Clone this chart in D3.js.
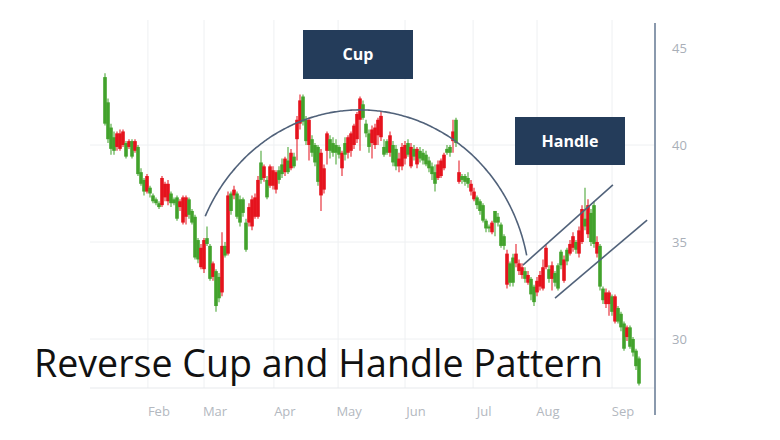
<!DOCTYPE html>
<html><head><meta charset="utf-8">
<script src="https://cdn.jsdelivr.net/npm/d3@7/dist/d3.min.js"></script>
<style>html,body{margin:0;padding:0;background:#fff;}svg{display:block;}</style>
</head><body>
<svg id="chart" width="780" height="440"></svg>
<script>
// ---- data ----
const months = ["Feb","Mar","Apr","May","Jun","Jul","Aug","Sep"];
const monthStart = [14.3, 33, 56.3, 77.7, 100, 122.7, 144, 169]; // candle index where each month begins
const yTicks = [30, 35, 40, 45];
const yGrid = [30, 35, 40];
const open = [41.1,40.3,39.8,39.7,40.6,40.6,40.7,39.4,40.2,39.4, 40.2,38.5,38.0,37.6,38.4,37.5,37.1,37.0,36.8,38.3, 38.0,38.0,37.0,37.0,36.2,37.1,37.3,37.3,36.4,36.0, 34.2,34.1,34.7,35.1,34.9,33.1,33.9,31.7,32.1,34.8, 34.3,37.4,36.6,37.7,36.3,36.0,36.5,34.6,36.8,37.2, 37.3,38.2,38.2,38.9,37.3,38.9,38.7,38.6,38.2,38.5, 39.3,38.6,39.6,38.9,41.3,42.3,41.2,40.2,41.3,39.6, 39.1,38.1,39.6,38.8,40.6,39.7,39.6,39.6,39.5,39.6, 39.5,40.4,40.6,41.0,41.6,42.4,41.4,40.6,39.9,40.8, 40.9,41.3,41.5,39.5,39.6,40.5,39.1,38.9,39.3,39.9, 40.0,39.5,39.9,39.4,39.8,39.3,39.2,39.0,38.8,38.5, 38.0,39.0,39.2,39.5,39.6,39.6,40.7,40.1,38.6,38.2, 38.1,38.0,38.0,37.6,36.9,36.6,36.1,35.7,35.7,36.0, 36.0,36.0,34.8,34.8,34.4,32.9,32.9,34.4,33.9,33.7, 33.1,33.3,32.3,31.9,33.0,33.3,33.7,34.7,33.1,33.8, 32.9,32.6,33.8,34.1,34.0,34.9,35.3,34.6,35.6,36.7, 35.8,36.9,35.0,34.9,35.0,32.7,32.0,32.4,32.4,31.4, 32.2,30.9,30.6,29.5,30.6,29.6,29.3,28.6,27.7];
const high = [43.7,42.4,41.1,40.7,40.7,40.8,40.8,40.2,40.3,40.3, 40.3,40.0,38.8,38.3,38.5,37.9,37.5,37.3,37.1,38.4, 38.1,38.2,37.6,37.3,37.4,37.2,37.4,37.4,37.3,36.7, 36.4,35.2,34.9,35.2,35.8,34.9,34.0,33.6,33.4,35.5, 35.0,37.6,37.6,37.9,37.6,37.4,37.3,36.2,37.0,37.4, 37.5,38.4,39.7,39.0,38.4,39.0,38.9,38.7,38.9,39.3, 39.4,39.9,39.8,39.6,41.5,42.6,42.6,41.5,41.4,40.5, 40.1,40.0,39.8,39.0,40.7,40.5,40.4,40.3,40.0,39.7, 40.4,40.5,40.7,41.1,41.7,42.5,42.3,41.3,40.8,41.0, 41.1,41.4,41.7,40.3,40.3,40.7,40.2,40.0,39.6,40.1, 40.2,40.3,40.1,40.0,39.9,39.9,39.8,39.7,39.4,39.1, 39.0,39.2,39.3,39.6,40.0,40.0,41.3,41.4,39.2,38.5, 38.5,38.6,38.2,37.8,37.4,37.2,37.0,36.2,35.9,36.1, 36.6,36.5,36.0,35.4,34.6,34.0,34.4,34.9,34.1,33.9, 33.7,33.5,33.2,32.8,33.2,33.5,34.1,34.9,33.8,34.0, 33.5,33.9,34.6,34.3,34.7,35.1,35.5,35.1,35.8,36.9, 37.8,37.2,36.7,37.1,35.3,34.9,32.7,32.6,32.5,32.3, 32.3,31.7,31.4,30.9,30.7,30.7,30.1,29.5,29.1];
const low = [41.0,40.1,39.5,39.5,39.7,39.7,39.9,39.3,39.8,39.3, 39.6,38.4,37.9,37.4,37.5,37.3,37.0,36.9,36.7,36.8, 37.1,36.9,36.8,36.9,36.1,36.6,35.9,35.9,36.2,35.9, 34.1,33.9,33.6,33.4,34.8,33.0,33.0,31.4,31.9,32.2, 34.2,34.3,36.4,37.2,36.2,35.8,36.3,34.5,35.8,35.6, 36.2,36.2,38.0,38.1,37.2,37.8,37.7,37.5,38.0,38.3, 38.4,38.5,38.7,38.8,39.2,40.8,41.0,40.0,39.2,39.4, 38.9,37.9,36.6,37.5,39.0,39.3,39.4,39.0,39.3,38.4, 39.2,39.3,39.4,39.8,40.1,39.7,41.3,40.4,39.6,39.3, 39.8,40.0,40.2,39.4,39.5,39.4,38.9,38.7,38.6,38.7, 39.0,39.4,38.8,39.2,38.8,39.1,39.0,38.9,38.6,38.2, 37.6,38.2,38.3,38.7,39.5,39.4,39.6,39.9,38.0,38.0, 37.9,37.8,37.4,37.1,36.7,36.4,36.0,35.5,35.5,35.4, 35.3,35.8,34.7,34.6,32.6,32.7,32.7,33.7,33.3,33.1, 32.9,32.8,32.0,31.7,32.2,32.5,32.5,33.6,32.9,32.5, 32.7,32.5,33.6,32.9,33.8,34.3,34.5,34.4,34.2,34.9, 35.6,35.2,34.8,34.7,34.2,32.5,31.8,31.6,31.2,31.2, 30.8,30.8,30.4,29.4,29.9,29.5,29.1,28.4,27.6];
const close = [43.5,42.2,40.9,40.4,39.9,39.8,40.0,40.1,39.9,40.2, 39.7,39.9,38.6,38.2,37.6,37.8,37.4,37.2,37.0,36.9, 37.3,37.1,37.5,37.2,37.3,36.8,36.0,36.3,37.2,36.6, 36.3,35.1,33.7,33.6,35.2,34.8,33.2,33.5,33.2,32.4, 34.8,34.4,37.5,37.4,37.5,37.2,37.2,36.0,36.0,35.8, 36.3,36.3,39.1,38.3,38.2,37.9,37.9,37.7,38.7,39.0, 38.6,39.2,38.8,39.4,40.3,41.1,42.5,41.3,40.0,40.3, 40.0,39.9,37.4,37.7,39.7,40.3,40.1,40.0,39.9,38.8, 40.1,39.6,39.7,40.0,40.3,41.3,42.1,41.1,40.6,40.1, 40.0,40.5,40.4,39.9,40.2,39.6,40.0,39.8,38.9,38.9, 39.3,40.1,38.9,39.8,39.0,39.7,39.6,39.5,39.2,38.9, 38.6,38.3,38.4,38.8,39.8,39.9,40.2,41.3,38.1,38.4, 38.4,38.3,37.6,37.2,37.3,37.1,36.9,36.1,35.8,35.5, 36.6,36.3,35.9,35.3,32.8,33.9,34.2,33.9,33.5,33.3, 33.5,32.9,33.1,32.7,32.4,32.7,32.6,33.7,33.6,33.1, 33.4,33.8,34.5,33.0,34.6,34.4,34.7,35.0,34.4,35.0, 36.2,35.4,36.5,36.9,34.4,34.8,32.6,31.8,31.8,32.2, 30.9,31.6,31.3,30.8,30.1,30.6,30.0,29.4,29.0];
// annotation shapes in data units (candle index, price)
const cupArc = {cx: 85, cy: 32.44, rx: 56.7, ry: 9.37, fromDeg: 11.5, toDeg: 155.7};
const channelUpper = [[139.3, 33.81], [169.3, 37.94]];
const channelLower = [[150.0, 32.11], [180.7, 36.13]];
const labels = {title: "Reverse Cup and Handle Pattern", cup: "Cup", handle: "Handle"};

// ---- layout ----
const svg = d3.select("#chart");
const W = 780, H = 440;
const plotLeft = 90, plotRight = 655, plotTop = 20, plotBottom = 388;
const GREEN = "#42a22c", RED = "#e5131d", NAVY = "#243c5a", LINE = "#51627a";

const x = d3.scaleLinear().domain([0, open.length - 1]).range([105, 639]);
const y = d3.scaleLinear().domain([30, 45]).range([339, 48]);

svg.append("rect").attr("width", W).attr("height", H).attr("fill", "#fff");

// gridlines
svg.append("g").selectAll("line").data(yGrid).join("line")
  .attr("x1", plotLeft).attr("x2", plotRight)
  .attr("y1", d => y(d)).attr("y2", d => y(d))
  .attr("stroke", "#eef0f2").attr("stroke-width", 1);
svg.append("g").selectAll("line").data(monthStart).join("line")
  .attr("x1", d => x(d)).attr("x2", d => x(d))
  .attr("y1", plotTop).attr("y2", plotBottom)
  .attr("stroke", "#eef0f2").attr("stroke-width", 1);
svg.append("line").attr("x1", plotLeft).attr("x2", plotRight)
  .attr("y1", plotBottom).attr("y2", plotBottom)
  .attr("stroke", "#e7e9ec").attr("stroke-width", 1);

// candles
const candles = d3.range(open.length).map(i => ({i, o: open[i], h: high[i], l: low[i], c: close[i]}));
const bw = 3.6;
const cg = svg.append("g");
cg.selectAll("line").data(candles).join("line")
  .attr("x1", d => x(d.i)).attr("x2", d => x(d.i))
  .attr("y1", d => y(d.h)).attr("y2", d => y(d.l))
  .attr("stroke", d => d.c >= d.o ? GREEN : RED).attr("stroke-width", 1.2).attr("opacity", 0.85);
cg.selectAll("rect").data(candles).join("rect")
  .attr("x", d => x(d.i) - bw / 2).attr("width", bw)
  .attr("y", d => y(Math.max(d.o, d.c)))
  .attr("height", d => Math.max(1.5, Math.abs(y(d.o) - y(d.c))))
  .attr("fill", d => d.c >= d.o ? GREEN : RED);

// cup arc
const arcPts = d3.range(cupArc.fromDeg, cupArc.toDeg + 0.01, 1).map(t => {
  const r = t * Math.PI / 180;
  return [cupArc.cx + cupArc.rx * Math.cos(r), cupArc.cy + cupArc.ry * Math.sin(r)];
});
const lineGen = d3.line().x(d => x(d[0])).y(d => y(d[1])).curve(d3.curveBasis);
svg.append("path").attr("d", lineGen(arcPts)).attr("fill", "none")
  .attr("stroke", LINE).attr("stroke-width", 1.6);
[channelUpper, channelLower].forEach(seg => {
  svg.append("path").attr("d", d3.line().x(d => x(d[0])).y(d => y(d[1]))(seg))
    .attr("fill", "none").attr("stroke", LINE).attr("stroke-width", 1.6);
});

// boxes
function box(bx, by, bw2, bh, txt) {
  svg.append("rect").attr("x", bx).attr("y", by).attr("width", bw2).attr("height", bh).attr("fill", NAVY);
  svg.append("text").attr("x", bx + bw2 / 2).attr("y", by + bh / 2 + 5.5)
    .attr("text-anchor", "middle").attr("font-family", "'Open Sans', sans-serif")
    .attr("font-weight", 700).attr("font-size", 16).attr("fill", "#fff").text(txt);
}
box(303, 30, 110, 49, labels.cup);
box(515, 117, 110, 48, labels.handle);

// right axis line
svg.append("line").attr("x1", plotRight).attr("x2", plotRight).attr("y1", 23).attr("y2", 415)
  .attr("stroke", "#8a99ad").attr("stroke-width", 2);

// y tick labels
svg.append("g").selectAll("text").data(yTicks).join("text")
  .attr("x", 672).attr("y", d => y(d) + 4.5)
  .attr("font-family", "'Open Sans', sans-serif").attr("font-size", 13)
  .attr("fill", "#a9afb8").text(d => d);

// month labels
svg.append("g").selectAll("text").data(months).join("text")
  .attr("x", (d, i) => x(monthStart[i]) + 11).attr("y", 416)
  .attr("text-anchor", "middle")
  .attr("font-family", "'Open Sans', sans-serif").attr("font-size", 13)
  .attr("fill", "#b3b8c0").text(d => d);

// title
svg.append("text").attr("x", 34).attr("y", 377)
  .attr("font-family", "'Open Sans', sans-serif").attr("font-size", 37.5)
  .attr("textLength", 569).attr("lengthAdjust", "spacingAndGlyphs")
  .attr("fill", "#111").text(labels.title);
</script>
</body></html>
